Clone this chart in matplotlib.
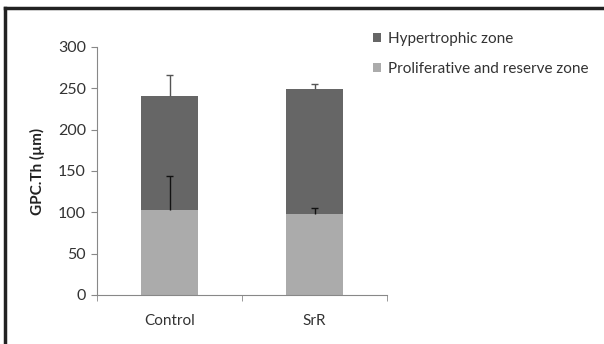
import matplotlib.pyplot as plt
from matplotlib.patches import Patch
from matplotlib.lines import Line2D

groups = ["Control", "SrR"]
prolif = [103, 98]
hyper = [138, 151]
prolif_err = [41, 7]
total_err = [25, 6]
series_names = ["Hypertrophic zone", "Proliferative and reserve zone"]
yticks = [0, 50, 100, 150, 200, 250, 300]

plt.rcParams['font.family'] = ['Lato', 'DejaVu Sans']

fig = plt.figure(figsize=(6.04, 3.44), dpi=100)
ax = fig.add_axes([97/604, 1-295/344, 290/604, 248/344])

dark = "#666666"
light = "#ababab"
x = list(range(len(groups)))
totals = [p + h for p, h in zip(prolif, hyper)]

ax.bar(x, prolif, width=0.39, color=light, zorder=2)
ax.bar(x, hyper, bottom=prolif, width=0.39, color=dark, zorder=2)

# one-sided (upper) error bars
cap = 0.025
for xi, base, err, col in [(xi, t, e, "#555555") for xi, t, e in zip(x, totals, total_err)] + \
        [(xi, p, e, "#111111") for xi, p, e in zip(x, prolif, prolif_err)]:
    ax.vlines(xi, base, base + err, color=col, lw=1, zorder=3)
    ax.hlines(base + err, xi - cap, xi + cap, color=col, lw=1, zorder=3)

ax.set_xlim(-0.5, 1.5)
ax.set_ylim(0, 300)
ax.set_yticks(yticks)
ax.set_xticks(x)
ax.set_xticklabels(groups)
ax.set_xticks([-0.5, 0.5, 1.5], minor=True)
ax.tick_params(axis="x", which="major", length=0, pad=14, labelsize=11, colors="#333333")
ax.tick_params(axis="x", which="minor", length=4, color="#888888", direction="out")
ax.tick_params(axis="y", length=4, color="#888888", labelsize=11.5, labelcolor="#333333", pad=4)
for s in ["top", "right"]:
    ax.spines[s].set_visible(False)
for s in ["left", "bottom"]:
    ax.spines[s].set_color("#888888")
ax.set_ylabel("GPC.Th (µm)", fontsize=11, fontweight="bold", color="#222222", labelpad=9)

handles = [Patch(facecolor=dark), Patch(facecolor=light)]
fig.legend(handles, series_names, loc="upper left", bbox_to_anchor=(359/604, 1-18/344),
           frameon=False, fontsize=11, handlelength=0.55, handleheight=0.55,
           handletextpad=0.45, labelspacing=1.05, labelcolor="#333333")

# partial frame (top and left)
fig.add_artist(Line2D([5/604, 5/604], [0, 1-8/344], transform=fig.transFigure, color="#222222", lw=2.5))
fig.add_artist(Line2D([5/604, 1], [1-8/344, 1-8/344], transform=fig.transFigure, color="#222222", lw=2.5))

fig.savefig("out.png", dpi=100)
